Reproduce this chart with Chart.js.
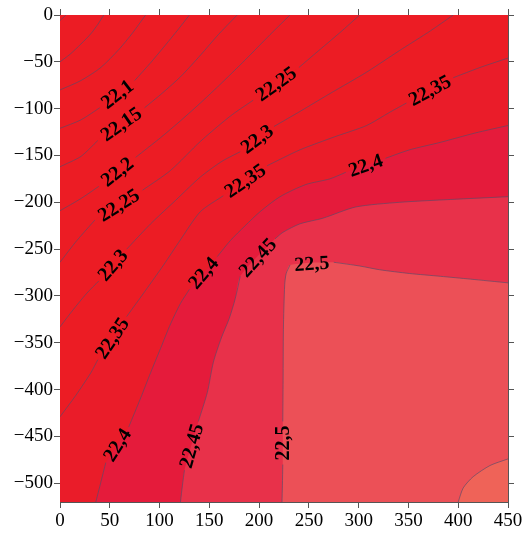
<!DOCTYPE html>
<html>
<head>
<meta charset="utf-8">
<script src="https://cdn.jsdelivr.net/npm/chart.js@4.4.1/dist/chart.umd.min.js"></script>
<style>
  html, body { margin: 0; padding: 0; background: #fff; }
  #wrap { width: 526px; height: 535px; }
</style>
</head>
<body>
<div id="wrap"><canvas id="contourChart" width="526" height="535"></canvas></div>
<script>
// ==============================
// Data: tick labels, contour levels, contour lines
// ==============================
const xTicks = [0, 50, 100, 150, 200, 250, 300, 350, 400, 450];
const yTicks = [0, -50, -100, -150, -200, -250, -300, -350, -400, -450, -500];

const levels = [21.95, 22.0, 22.05, 22.1, 22.15, 22.2, 22.25, 22.3, 22.35, 22.4, 22.45, 22.5, 22.55];

// [x, y] points along each contour; null = place of the label (line is broken there)
const line21_95 = [[0, -6], [3, -3], [6, 0]];
const line22_00 = [[0, -50], [10, -42], [21, -31], [31, -20], [38, -10], [44, 0]];
const line22_05 = [[0, -80], [21, -70], [41, -56], [59, -37], [73, -19], [86, 0]];
const line22_10 = [[0, -121], [21, -112], [40, -99], null, [75, -70], [91, -51], [106, -32], [119, -15], [130, 0]];
const line22_15 = [[0, -162], [21, -151], [38, -134], null, [85, -99], [101, -85], [121, -66], [141, -43], [159, -21], [178, 0]];
const line22_20 = [[0, -209], [21, -196], [39, -183], null, [76, -152], [101, -131], [121, -113], [141, -94], [161, -74], [186, -48], [211, -21], [231, 0]];
const line22_25 = [[0, -264], [16, -242], [35, -219], null, [83, -187], [111, -166], [141, -135], [171, -108], [194, -91], null, [240, -56], [261, -37], [281, -19], [301, 0]];
const line22_30 = [[0, -333], [13, -315], [27, -297], [39, -284], null, [67, -250], [91, -223], [116, -198], [141, -173], [163, -156], [181, -146], null, [215, -119], [241, -103], [271, -84], [308, -61], [341, -38], [372, -17], [395, 0]];
const line22_35 = [[0, -429], [16, -406], [31, -382], [38, -368], null, [67, -322], [86, -294], [104, -267], [121, -240], [141, -210], [164, -193], null, [208, -161], [241, -144], [276, -130], [308, -118], [331, -104], [348, -94], null, [395, -67], [422, -56], [450, -46]];
const line22_40 = [[36, -520], [41, -499], [46, -478], null, [69, -440], [81, -409], [91, -382], [101, -356], [111, -330], [121, -308], [130, -293], null, [158, -258], [171, -241], [186, -225], [201, -210], [221, -194], [247, -181], [271, -175], [287, -168], null, [327, -153], [351, -144], [382, -136], [417, -126], [450, -118]];
const line22_45 = [[121, -520], [123, -502], [125, -486], null, [139, -434], [148, -403], [154, -371], [162, -345], [170, -324], [176, -303], [181, -279], null, [216, -239], [224, -232], [241, -223], [264, -217], [297, -205], [341, -200], [392, -197], [450, -194]];
const line22_50 = [[223, -520], [223.4, -502], [223.8, -480], null, [223.8, -434], [224.1, -390], [224.4, -336], [225.7, -288], [227.2, -276], [231, -267], null, [275, -264], [301, -268], [321, -272], [351, -276], [382, -279], [412, -282], [450, -286]];
const line22_55 = [[400, -520], [405, -505], [415, -493], [432, -481], [450, -474]];

const contourLines = [line21_95, line22_00, line22_05, line22_10, line22_15, line22_20, line22_25,
  line22_30, line22_35, line22_40, line22_45, line22_50, line22_55];

// ==============================
// Styles
// ==============================
const baseColor = "#EC1C24";
// colour of the area above each level
const bandColors = ["#EC1C24", "#EC1C24", "#EC1C24", "#EC1C24", "#EC1C24", "#EC1C24", "#EC1C24",
  "#EC1C24", "#EA1C29", "#E51B3B", "#E8314A", "#EC5057", "#EF6358"];
const lineColor = "rgba(85, 75, 105, 0.8)";
const axisColor = "#555";
const serif = "'Liberation Serif', 'Times New Roman', serif";
const tickFont = { family: serif, size: 19 };

const fmt = (v) => String(v).replace("-", "\u2212");

// ==============================
// Datasets: fills first, then the contour strokes
// ==============================
const datasets = [];

datasets.push({
  data: [{ x: 0, y: 0 }, { x: 450, y: 0 }],
  fill: "start",
  backgroundColor: baseColor,
  borderColor: "rgba(0,0,0,0)",
  borderWidth: 0,
  pointRadius: 0,
  order: 1000,
});

contourLines.forEach((line, i) => {
  const pts = line.filter(Boolean).map((p) => ({ x: p[0], y: p[1] }));
  const last = pts[pts.length - 1];
  if (last.y === 0 && last.x < 450) pts.push({ x: 450, y: 0 }); // close along the top edge
  datasets.push({
    data: pts,
    fill: "start",
    backgroundColor: bandColors[i],
    borderColor: "rgba(0,0,0,0)",
    borderWidth: 0,
    pointRadius: 0,
    order: 999 - i,
  });
});

contourLines.forEach((line) => {
  const pts = line.map((p, k) => {
    if (p) return { x: p[0], y: p[1] };
    return { x: (line[k - 1][0] + line[k + 1][0]) / 2, y: null }; // gap for the label
  });
  datasets.push({
    data: pts,
    fill: false,
    borderColor: lineColor,
    borderWidth: 0.8,
    pointRadius: 0,
    order: 0,
  });
});

// ==============================
// Plugin: labels in the gaps of the contour lines
// ==============================
const contourLabelPlugin = {
  id: "contourLabels",
  afterDatasetsDraw(chart) {
    const { ctx } = chart;
    const xs = chart.scales.x;
    const ys = chart.scales.y;
    ctx.save();
    ctx.font = "bold 20px " + serif;
    ctx.fillStyle = "#000";
    ctx.textAlign = "center";
    ctx.textBaseline = "middle";
    contourLines.forEach((line, i) => {
      const text = String(levels[i]).replace(".", ",");
      line.forEach((p, k) => {
        if (p) return;
        const a = line[k - 1];
        const b = line[k + 1];
        const ax = xs.getPixelForValue(a[0]);
        const ay = ys.getPixelForValue(a[1]);
        const bx = xs.getPixelForValue(b[0]);
        const by = ys.getPixelForValue(b[1]);
        let ang = Math.atan2(by - ay, bx - ax);
        if (ang > Math.PI / 2) ang -= Math.PI;
        if (ang <= -Math.PI / 2 - 0.01) ang += Math.PI;
        ctx.save();
        ctx.translate((ax + bx) / 2, (ay + by) / 2);
        ctx.rotate(ang);
        ctx.fillText(text, 0, 1);
        ctx.restore();
      });
    });
    ctx.restore();
  },
};

// ==============================
// Axes
// ==============================
function axis(position, min, max, ticks, size, showLabels) {
  const horizontal = position === "top" || position === "bottom";
  return {
    type: "linear",
    position,
    min,
    max,
    afterBuildTicks: (s) => {
      s.ticks = ticks.map((v) => ({ value: v }));
    },
    afterFit: (s) => {
      if (horizontal) s.height = size;
      else s.width = size;
    },
    grid: { drawOnChartArea: false, drawTicks: true, tickLength: 6, color: axisColor },
    border: { color: axisColor, width: 1 },
    ticks: {
      display: showLabels,
      font: tickFont,
      color: "#000",
      padding: horizontal ? 2 : 1,
      maxRotation: 0,
      autoSkip: false,
      callback: (v) => fmt(v),
    },
  };
}

new Chart(document.getElementById("contourChart").getContext("2d"), {
  type: "line",
  data: { datasets },
  options: {
    responsive: false,
    animation: false,
    events: [],
    layout: { padding: 0 },
    elements: { line: { tension: 0.25 } },
    plugins: {
      legend: { display: false },
      tooltip: { enabled: false },
    },
    scales: {
      x: axis("bottom", 0, 450, xTicks, 33, true),
      y: axis("left", -520, 0, yTicks, 60, true),
      x2: axis("top", 0, 450, xTicks, 15, false),
      y2: axis("right", -520, 0, yTicks, 18, false),
    },
  },
  plugins: [contourLabelPlugin],
});
</script>
</body>
</html>
